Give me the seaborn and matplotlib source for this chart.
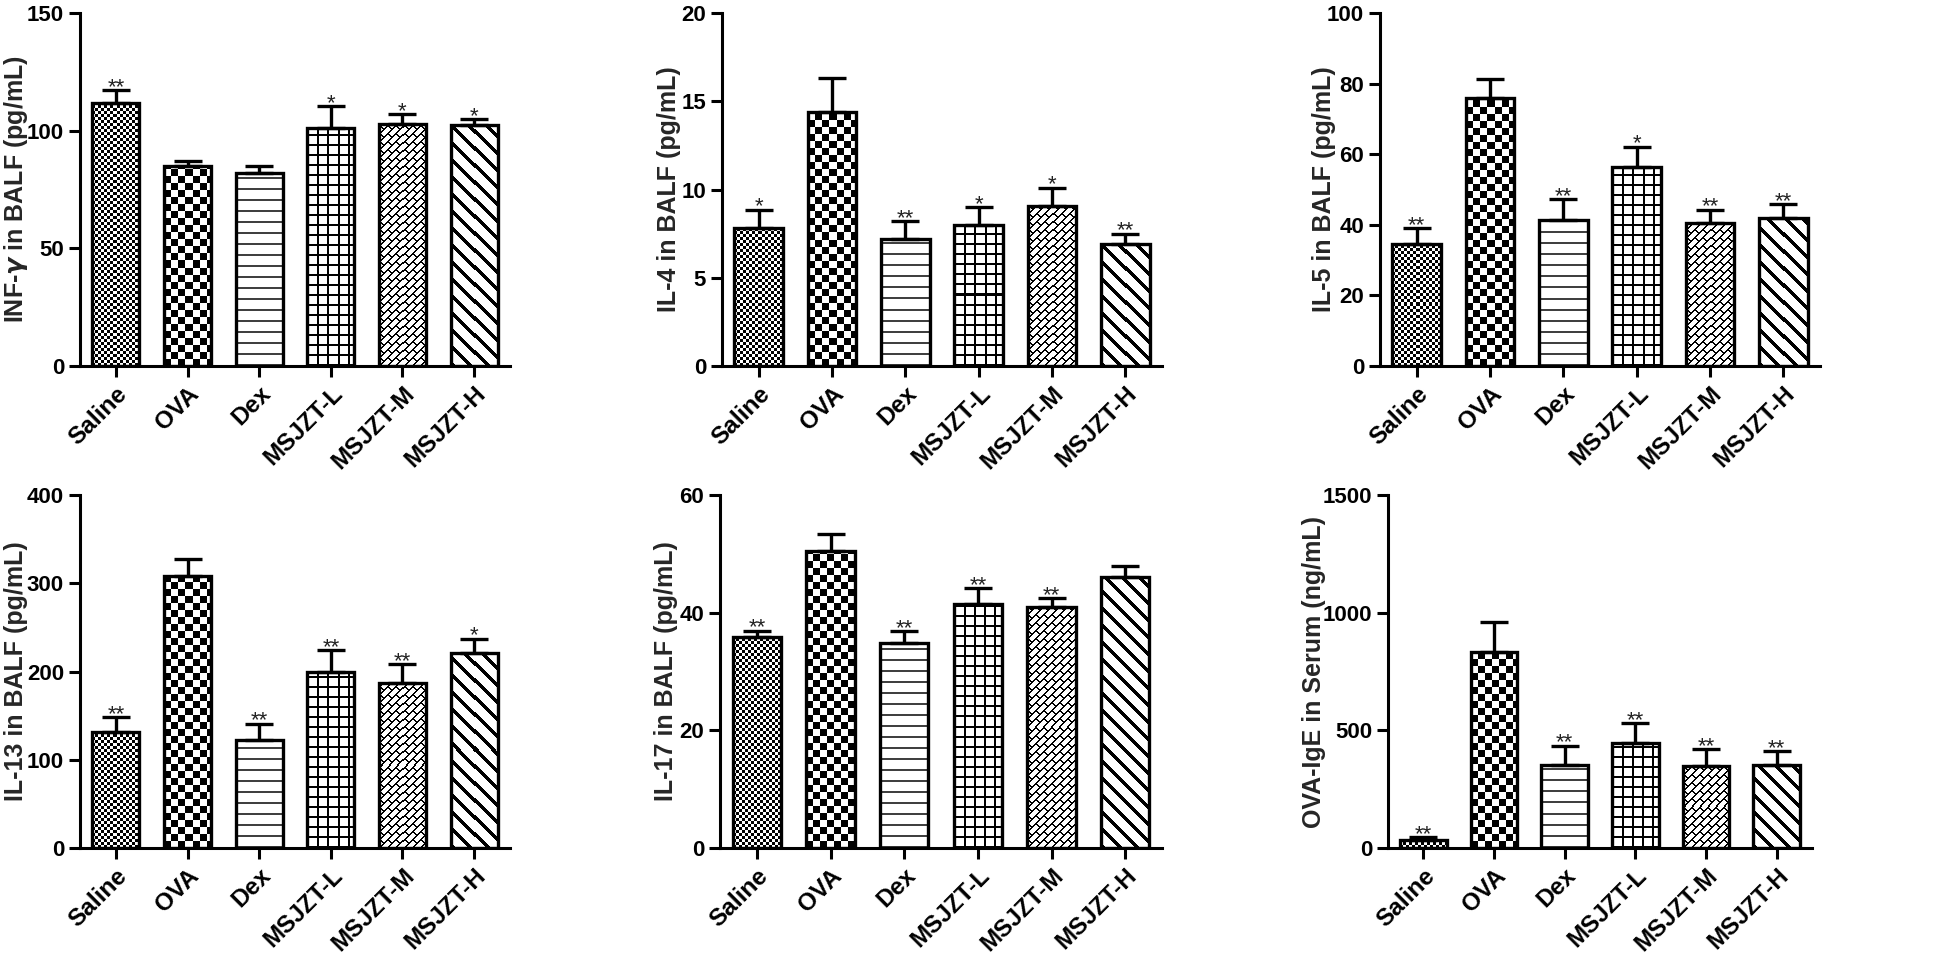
import numpy as np
import pandas as pd
import matplotlib
matplotlib.use("Agg")
import matplotlib.pyplot as plt
import seaborn as sns

# --- datos ---
groups = ["Saline", "OVA", "Dex", "MSJZT-L", "MSJZT-M", "MSJZT-H"]

inf_mean = [111.7, 85.1, 81.9, 101.0, 102.8, 102.2]
inf_sem = [5.4, 2.2, 3.1, 9.3, 4.3, 2.7]
inf_sig = ["**", "", "", "*", "*", "*"]

il4_mean = [7.8, 14.4, 7.2, 8.0, 9.05, 6.9]
il4_sem = [1.05, 1.9, 1.0, 1.0, 1.05, 0.6]
il4_sig = ["*", "", "**", "*", "*", "**"]

il5_mean = [34.7, 75.9, 41.5, 56.3, 40.4, 41.9]
il5_sem = [4.3, 5.4, 5.7, 5.8, 3.9, 3.9]
il5_sig = ["**", "", "**", "*", "**", "**"]

il13_mean = [131, 308, 122, 199, 187, 221]
il13_sem = [17, 19, 19, 25, 21, 16]
il13_sig = ["**", "", "**", "**", "**", "*"]

il17_mean = [35.8, 50.4, 34.8, 41.5, 41.0, 46.0]
il17_sem = [1.1, 2.9, 2.0, 2.7, 1.5, 1.9]
il17_sig = ["**", "", "**", "**", "**", ""]

ige_mean = [35, 832, 354, 446, 350, 351]
ige_sem = [10, 129, 81, 85, 71, 60]
ige_sig = ["**", "", "**", "**", "**", "**"]

paneles = [
    (inf_mean, inf_sem, inf_sig, "INF-$\\gamma$ in BALF (pg/mL)", [0, 50, 100, 150]),
    (il4_mean, il4_sem, il4_sig, "IL-4 in BALF (pg/mL)", [0, 5, 10, 15, 20]),
    (il5_mean, il5_sem, il5_sig, "IL-5 in BALF (pg/mL)", [0, 20, 40, 60, 80, 100]),
    (il13_mean, il13_sem, il13_sig, "IL-13 in BALF (pg/mL)", [0, 100, 200, 300, 400]),
    (il17_mean, il17_sem, il17_sig, "IL-17 in BALF (pg/mL)", [0, 20, 40, 60]),
    (ige_mean, ige_sem, ige_sig, "OVA-IgE in Serum (ng/mL)", [0, 500, 1000, 1500]),
]

tramas = ["fine_check", "check", "hlines", "grid", "brick", "diag"]

# --- estilo ---
sns.set_style("ticks")
plt.rcParams["font.family"] = ["Liberation Sans", "DejaVu Sans"]
plt.rcParams["font.weight"] = "bold"
plt.rcParams["axes.labelweight"] = "bold"
plt.rcParams["mathtext.fontset"] = "dejavusans"
plt.rcParams["axes.edgecolor"] = "black"
plt.rcParams["xtick.color"] = "black"
plt.rcParams["ytick.color"] = "black"

W, H = 1950, 956
fig = plt.figure(figsize=(W / 100, H / 100), dpi=100)

# cajas de ejes en píxeles: (izq, der, arriba, abajo) y centro del título del eje y
cajas = [(80, 510, 13, 366), (722, 1162, 13, 366), (1380, 1820, 13, 366),
         (80, 510, 495, 848), (720, 1162, 495, 848), (1388, 1812, 495, 848)]
centro_label = [16, 669, 1324, 16, 666, 1314]


def trama(tipo, w, h):
    yy, xx = np.mgrid[0:h, 0:w]
    val = np.ones((h, w))
    if tipo == "fine_check":
        tinta = ((xx // 3) + (yy // 3)) % 2 == 0
    elif tipo == "check":
        tinta = ((xx // 7) + (yy // 7)) % 2 == 0
    elif tipo == "hlines":
        tinta = yy % 11 < 2
        val[tinta] = 0.25
        return val
    elif tipo == "grid":
        tinta = (xx % 10 < 2) | (yy % 10 < 2)
    elif tipo == "brick":
        v = xx - yy + 4000
        u = xx + yy
        fila = v // 8
        tinta = (v % 8 < 2) | ((u + (fila % 2) * 8) % 16 < 2)
    else:
        tinta = (xx + yy) % 17 < 5
    val[tinta] = 0.0
    return val


for (media, sem, sig, etiqueta, ticks), (x0, x1, y0, y1), lx in zip(paneles, cajas, centro_label):
    ax = fig.add_axes([x0 / W, 1 - y1 / H, (x1 - x0) / W, (y1 - y0) / H])
    df = pd.DataFrame({"grupo": groups, "valor": media})
    sns.barplot(data=df, x="grupo", y="valor", ax=ax, color="white",
                edgecolor="black", linewidth=2.4, width=0.66,
                errorbar=None, saturation=1)
    ax.errorbar(range(len(groups)), media, yerr=[np.zeros(len(sem)), sem],
                fmt="none", ecolor="black", elinewidth=2.4, capsize=10,
                capthick=2.4, zorder=3)

    ax.set_xlim(-0.5, len(groups) - 0.5)
    ax.set_ylim(0, ticks[-1])

    # rellenos con trama, recortados a cada barra
    for patch, tipo in zip(ax.patches, tramas):
        bx, bw, bh = patch.get_x(), patch.get_width(), patch.get_height()
        p = ax.transData.transform([(bx, 0), (bx + bw, bh)])
        npx_w = max(int(round(abs(p[1, 0] - p[0, 0]))), 1)
        npx_h = max(int(round(abs(p[1, 1] - p[0, 1]))), 1)
        im = ax.imshow(trama(tipo, npx_w, npx_h), cmap="gray", vmin=0, vmax=1,
                       origin="lower", extent=(bx, bx + bw, 0, bh),
                       interpolation="nearest", aspect="auto", zorder=1.5)
        im.set_clip_path(patch)
        patch.set_facecolor("none")
        patch.set_zorder(2)

    ax.set_xlim(-0.5, len(groups) - 0.5)
    ax.set_ylim(0, ticks[-1])

    for i, s in enumerate(sig):
        if s:
            ax.annotate(s, (i, media[i] + sem[i]), xytext=(0, -2),
                        textcoords="offset points", ha="center", va="baseline",
                        fontsize=16, fontweight="normal", color="#222222")

    sns.despine(ax=ax)
    ax.spines["left"].set_linewidth(2.2)
    ax.spines["bottom"].set_linewidth(2.2)
    ax.tick_params(axis="both", width=2.2, length=8, direction="out")
    ax.set_yticks(ticks)
    ax.set_yticklabels([str(t) for t in ticks], fontsize=16, fontweight="bold",
                       family=["Liberation Sans Narrow", "Liberation Sans"])
    ax.set_xticks(range(len(groups)))
    ax.set_xticklabels(groups, rotation=45, ha="right", rotation_mode="anchor",
                       fontsize=17.5, fontweight="bold")
    ax.set_xlabel("")
    ax.set_ylabel(etiqueta, fontsize=18, fontweight="bold", va="center")
    ax.yaxis.set_label_coords((lx - x0) / (x1 - x0), 0.5)

fig.savefig("out.png", dpi=100)
